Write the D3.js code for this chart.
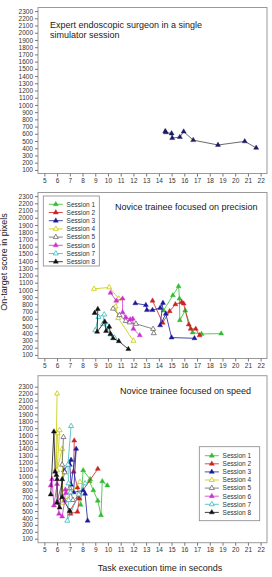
<!DOCTYPE html>
<html>
<head>
<meta charset="utf-8">
<script src="https://cdn.jsdelivr.net/npm/d3@7"></script>
<style>
  body { margin: 0; background: #fff; }
  svg { display: block; font-family: "Liberation Sans", Arial, sans-serif; }
</style>
</head>
<body>
<svg id="chart" width="272" height="577"></svg>
<script>
// tick labels
var xTicks = [5, 6, 7, 8, 9, 10, 11, 12, 13, 14, 15, 16, 17, 18, 19, 20, 21, 22];
var yTicks = [100, 200, 300, 400, 500, 600, 700, 800, 900, 1000, 1100, 1200,
  1300, 1400, 1500, 1600, 1700, 1800, 1900, 2000, 2100, 2200, 2300];

var sessionNames = ['Session 1', 'Session 2', 'Session 3', 'Session 4',
  'Session 5', 'Session 6', 'Session 7', 'Session 8'];

// [time (s), score (px)]
var expert = [[14.5, 635], [14.55, 620], [15.0, 605], [15.05, 540], [15.65, 555],
  [15.95, 630], [16.7, 512], [18.65, 445], [20.75, 495], [21.65, 405]];

var precision1 = [[14.37, 715], [15.1, 925], [15.55, 1050], [15.62, 880], [15.65, 580],
  [16.07, 715], [16.65, 410], [17.35, 390], [18.9, 395]];
var precision2 = [[13.5, 850], [14.3, 545], [14.85, 705], [15.3, 800], [15.8, 830],
  [15.95, 810], [16.35, 520], [16.5, 460], [16.9, 460], [17.2, 370]];
var precision3 = [[12.15, 815], [12.98, 790], [13.06, 720], [13.5, 720], [14.1, 750],
  [14.32, 820], [14.1, 510], [14.55, 670], [15.0, 340], [16.8, 330]];
var precision4 = [[8.9, 1015], [10.1, 1035], [10.85, 880], [10.6, 770], [10.8, 610], [12.0, 295]];
var precision5 = [[10.4, 740], [10.9, 650], [11.4, 570], [11.7, 550], [12.2, 530],
  [13.55, 460], [13.6, 400]];
var precision6 = [[10.2, 960], [10.65, 850], [11.15, 880], [11.15, 690], [11.4, 620],
  [11.75, 590], [11.95, 600], [12.0, 460], [12.5, 370]];
var precision7 = [[9.0, 440], [9.25, 625], [9.7, 660], [9.6, 530], [9.95, 510],
  [10.2, 385], [10.5, 340]];
var precision8 = [[8.95, 680], [9.2, 735], [9.15, 420], [9.75, 560], [9.85, 430],
  [10.1, 490], [10.2, 390], [10.4, 330], [10.85, 290], [11.6, 180]];

var speed1 = [[7.85, 590], [8.05, 1090], [8.6, 960], [8.55, 930], [8.85, 800],
  [9.2, 650], [9.45, 440], [9.55, 930], [9.95, 870]];
var speed2 = [[7.35, 1520], [7.3, 1070], [7.6, 840], [7.75, 680], [7.6, 490],
  [7.05, 460], [7.0, 500], [7.65, 700], [9.2, 1110]];
var speed3 = [[6.55, 1090], [7.1, 1240], [7.0, 1170], [7.1, 880], [7.5, 1400],
  [7.3, 770], [8.05, 800], [8.2, 750], [8.4, 360]];
var speed4 = [[6.0, 2200], [5.9, 1100], [6.05, 1630], [6.2, 1670], [6.0, 1090],
  [6.4, 1400], [6.45, 620], [7.8, 920]];
var speed5 = [[6.5, 1570], [6.4, 1170], [6.6, 1060], [6.0, 630], [7.0, 830], [7.25, 660]];
var speed6 = [[5.5, 870], [5.6, 960], [5.75, 580], [6.0, 890], [6.15, 460],
  [6.4, 420], [6.6, 650], [6.65, 810], [6.7, 760]];
var speed7 = [[7.1, 1730], [6.85, 1170], [6.9, 900], [7.05, 770], [6.9, 660],
  [6.8, 360], [7.7, 740], [8.2, 900]];
var speed8 = [[5.5, 740], [5.75, 1650], [5.85, 1070], [5.95, 1020], [6.0, 960],
  [6.0, 620], [6.2, 550], [6.4, 960], [6.4, 700], [7.0, 500]];

var precision = [precision1, precision2, precision3, precision4, precision5, precision6, precision7, precision8];
var speed = [speed1, speed2, speed3, speed4, speed5, speed6, speed7, speed8];

// styles
var colors = ['#33bb33', '#cc2222', '#1a1a99', '#c8c800', '#666666', '#cc33cc', '#33bbbb', '#111111'];
var hollow = [false, false, false, true, true, false, true, false];

var svg = d3.select('#chart');
var tri = d3.symbol(d3.symbolTriangle).size(11);
var fontSize = 6.5;

function panel(top, bottom, yDomain) {
  var x = d3.scaleLinear().domain([4.5, 22.5]).range([38, 267]);
  var y = d3.scaleLinear().domain(yDomain).range([bottom, top]);
  var g = svg.append('g');

  g.append('rect')
    .attr('x', 38).attr('y', top)
    .attr('width', 229).attr('height', bottom - top)
    .attr('fill', 'none').attr('stroke', '#999').attr('stroke-width', 1);

  var ax = g.append('g')
    .attr('transform', 'translate(0,' + bottom + ')')
    .call(d3.axisBottom(x).tickValues(xTicks).tickFormat(d3.format('d')).tickSize(3).tickPadding(2));
  var ay = g.append('g')
    .attr('transform', 'translate(38,0)')
    .call(d3.axisLeft(y).tickValues(yTicks).tickFormat(d3.format('d')).tickSize(3).tickPadding(2));
  [ax, ay].forEach(function (a) {
    a.select('.domain').remove();
    a.selectAll('line').attr('stroke', '#777');
    a.selectAll('text').attr('fill', '#333').style('font-size', fontSize + 'px').attr('font-family', null);
  });

  return { g: g, x: x, y: y };
}

function drawSeries(p, data, color, open, lineColor) {
  var line = d3.line().x(function (d) { return p.x(d[0]); }).y(function (d) { return p.y(d[1]); });
  p.g.append('path')
    .datum(data)
    .attr('d', line)
    .attr('fill', 'none')
    .attr('stroke', lineColor || color)
    .attr('stroke-width', 0.8);
  p.g.selectAll(null)
    .data(data)
    .enter().append('path')
    .attr('d', tri)
    .attr('transform', function (d) { return 'translate(' + p.x(d[0]) + ',' + p.y(d[1]) + ')'; })
    .attr('fill', open ? '#fff' : color)
    .attr('stroke', color)
    .attr('stroke-width', open ? 0.8 : 0.4);
}

function legend(p, left, top, w, h, rowStart, step) {
  var lg = p.g.append('g');
  lg.append('rect')
    .attr('x', left).attr('y', top).attr('width', w).attr('height', h)
    .attr('fill', '#fff').attr('stroke', '#888').attr('stroke-width', 0.8);
  sessionNames.forEach(function (name, i) {
    var yy = rowStart + i * step;
    lg.append('line')
      .attr('x1', left + 5.5).attr('x2', left + 19.5)
      .attr('y1', yy).attr('y2', yy)
      .attr('stroke', colors[i]).attr('stroke-width', 0.8);
    lg.append('path')
      .attr('d', tri)
      .attr('transform', 'translate(' + (left + 12.5) + ',' + yy + ')')
      .attr('fill', hollow[i] ? '#fff' : colors[i])
      .attr('stroke', colors[i]).attr('stroke-width', hollow[i] ? 0.8 : 0.4);
    lg.append('text')
      .attr('x', left + 23.3).attr('y', yy + 2.3)
      .attr('fill', '#333').style('font-size', fontSize + 'px')
      .text(name);
  });
}

function title(p, xx, yy, lines) {
  lines.forEach(function (t, i) {
    p.g.append('text')
      .attr('x', xx).attr('y', yy + i * 10)
      .attr('fill', '#222').style('font-size', '9px')
      .text(t);
  });
}

// panel 1: expert
var p1 = panel(7.5, 173.5, [50, 2350]);
title(p1, 50, 27.7, ['Expert endoscopic surgeon in a single', 'simulator session']);
drawSeries(p1, expert, '#1a1a66', false, '#444');

// panel 2: precision
var p2 = panel(192.5, 358.5, [50, 2350]);
title(p2, 115, 209.7, ['Novice trainee focused on precision']);
precision.forEach(function (s, i) { drawSeries(p2, s, colors[i], hollow[i]); });
legend(p2, 43.3, 196, 56, 70, 204.3, 8.2);

// panel 3: speed
var p3 = panel(375.7, 542.7, [42, 2459]);
title(p3, 120, 394.3, ['Novice trainee focused on speed']);
speed.forEach(function (s, i) { drawSeries(p3, s, colors[i], hollow[i]); });
legend(p3, 199.3, 446.7, 60.4, 74, 455.7, 8.1);

// axis titles
svg.append('text')
  .attr('transform', 'translate(6.5,262) rotate(-90)')
  .attr('text-anchor', 'middle')
  .attr('fill', '#222').style('font-size', '9px')
  .text('On-target score in pixels');
svg.append('text')
  .attr('x', 160).attr('y', 571)
  .attr('text-anchor', 'middle')
  .attr('fill', '#222').style('font-size', '9px')
  .text('Task execution time in seconds');
</script>
</body>
</html>
